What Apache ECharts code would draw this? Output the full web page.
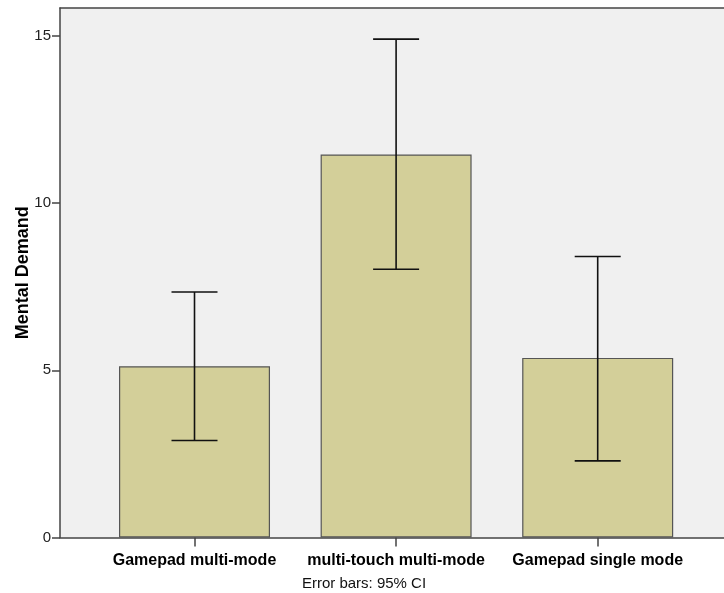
<!DOCTYPE html>
<html>
<head>
<meta charset="utf-8">
<script src="https://cdn.jsdelivr.net/npm/echarts@6/dist/echarts.min.js"></script>
<style>html,body{margin:0;padding:0;background:#fff}#c{width:724px;height:593px}</style>
</head>
<body>
<div id="c"></div>
<script>
const categories = ['Gamepad multi-mode', 'multi-touch multi-mode', 'Gamepad single mode'];
const means = [5.12, 11.45, 5.37];
const ciLow = [2.90, 8.02, 2.29];
const ciHigh = [7.34, 14.90, 8.40];
const yTicks = [0, 5, 10, 15];
const catPos = [1, 2, 3];

const chart = echarts.init(document.getElementById('c'), null, {renderer: 'canvas'});
const font = 'Arial, "Liberation Sans", sans-serif';
chart.setOption({
  animation: false,
  grid: {left: 60, right: 0, top: 8, bottom: 55.5, show: true, backgroundColor: '#f0f0f0', borderWidth: 0,
    containLabel: false, outerBoundsMode: 'none'},
  xAxis: [{
    type: 'value', min: 0.3328, max: 3.6265,
    axisLine: {show: true, lineStyle: {color: '#444', width: 1.5}},
    axisTick: {show: true, customValues: catPos, length: 9, lineStyle: {color: '#444', width: 1.5}},
    axisLabel: {customValues: catPos, formatter: v => categories[Math.round(v) - 1] || '',
      fontFamily: font, fontWeight: 'bold', fontSize: 16, color: '#000', margin: 15},
    splitLine: {show: false}
  }, {
    type: 'value', position: 'top', min: 0.3328, max: 3.6265,
    axisLine: {show: true, lineStyle: {color: '#444', width: 1.5}},
    axisTick: {show: false}, axisLabel: {show: false}, splitLine: {show: false}
  }],
  yAxis: {
    type: 'value', min: 0, max: 15.83,
    name: 'Mental Demand', nameLocation: 'middle', nameGap: 28, nameMoveOverlap: false,
    nameTextStyle: {fontFamily: font, fontWeight: 'bold', fontSize: 18, color: '#000'},
    axisLine: {show: true, lineStyle: {color: '#444', width: 1.5}},
    axisTick: {show: true, customValues: yTicks, length: 8, lineStyle: {color: '#444', width: 1.5}},
    axisLabel: {customValues: yTicks, fontFamily: font, fontSize: 15, color: '#222', margin: 9},
    splitLine: {show: false}
  },
  series: [{
    type: 'bar',
    data: means.map((m, i) => [catPos[i], m]),
    barWidth: 151,
    itemStyle: {color: '#d3cf99', borderColor: '#555', borderWidth: 1.2}
  }, {
    type: 'custom',
    data: means.map((m, i) => [catPos[i], ciLow[i], ciHigh[i]]),
    renderItem: function (params, api) {
      const x = api.value(0);
      const lo = api.coord([x, api.value(1)]);
      const hi = api.coord([x, api.value(2)]);
      const hw = 23;
      const style = {stroke: '#111', lineWidth: 1.6};
      return {type: 'group', children: [
        {type: 'line', shape: {x1: lo[0], y1: lo[1], x2: hi[0], y2: hi[1]}, style: style},
        {type: 'line', shape: {x1: hi[0] - hw, y1: hi[1], x2: hi[0] + hw, y2: hi[1]}, style: style},
        {type: 'line', shape: {x1: lo[0] - hw, y1: lo[1], x2: lo[0] + hw, y2: lo[1]}, style: style}
      ]};
    },
    z: 10
  }],
  graphic: [{
    type: 'text', x: 364, y: 584,
    style: {text: 'Error bars: 95% CI', font: '15px ' + font, fill: '#111', textAlign: 'center', textVerticalAlign: 'middle'}
  }]
});
</script>
</body>
</html>
